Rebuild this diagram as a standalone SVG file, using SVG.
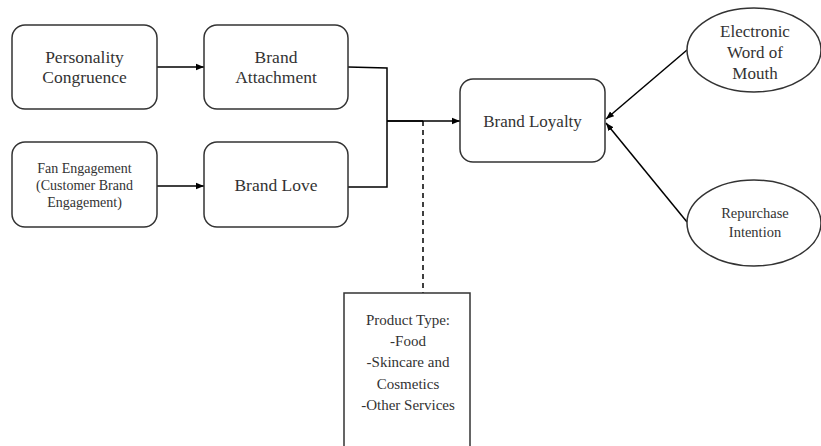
<svg xmlns="http://www.w3.org/2000/svg" width="821" height="446" viewBox="0 0 821 446">
<defs>
<style>
.box{fill:#fff;stroke:#333;stroke-width:1.5}
.t{font-family:"Liberation Serif","Times New Roman",serif;fill:#333;text-anchor:middle}
.c{fill:none;stroke:#000;stroke-width:1.5}
</style>
<marker id="ah" viewBox="0 0 10 10" refX="10" refY="5" markerWidth="8" markerHeight="8" markerUnits="userSpaceOnUse" orient="auto">
<path d="M0,1 L10,5 L0,9 Z" fill="#000"/>
</marker>
</defs>
<rect width="821" height="446" fill="#fff"/>
<g id="connectors">
<line class="c" x1="157" y1="67" x2="204" y2="67" marker-end="url(#ah)"/>
<line class="c" x1="157" y1="186" x2="204" y2="186" marker-end="url(#ah)"/>
<polyline class="c" points="348,67 387,68 387,187 348,187"/>
<line class="c" x1="387" y1="121" x2="460" y2="121" marker-end="url(#ah)"/>
<line class="c" x1="387" y1="121" x2="423" y2="121" stroke-width="2.5"/>
<line class="c" x1="423" y1="121" x2="423" y2="293" stroke-dasharray="5,4"/>
<line class="c" x1="687" y1="50" x2="606" y2="119" marker-end="url(#ah)"/>
<line class="c" x1="687" y1="222" x2="606" y2="123" marker-end="url(#ah)"/>
</g>
<g id="personality">
<rect class="box" x="12" y="25" width="145" height="84" rx="13"/>
<text class="t" font-size="17.5" x="84.5" y="63">Personality</text>
<text class="t" font-size="17.5" x="84.5" y="83">Congruence</text>
</g>
<g id="attachment">
<rect class="box" x="204" y="25" width="144" height="84" rx="13"/>
<text class="t" font-size="17.5" x="276" y="63">Brand</text>
<text class="t" font-size="17.5" x="276" y="83">Attachment</text>
</g>
<g id="fan">
<rect class="box" x="12" y="142" width="145" height="85" rx="13"/>
<text class="t" font-size="14" x="84.5" y="173">Fan Engagement</text>
<text class="t" font-size="14" x="84.5" y="190">(Customer Brand</text>
<text class="t" font-size="14" x="84.5" y="207">Engagement)</text>
</g>
<g id="love">
<rect class="box" x="204" y="142" width="144" height="85" rx="13"/>
<text class="t" font-size="17.5" x="276" y="191">Brand Love</text>
</g>
<g id="loyalty">
<rect class="box" x="460" y="79" width="145" height="83" rx="13"/>
<text class="t" font-size="17" x="532.5" y="127">Brand Loyalty</text>
</g>
<g id="ewom">
<ellipse class="box" cx="754" cy="50" rx="67" ry="42"/>
<text class="t" font-size="17" x="755" y="37">Electronic</text>
<text class="t" font-size="17" x="755" y="58">Word of</text>
<text class="t" font-size="17" x="755" y="79">Mouth</text>
</g>
<g id="repurchase">
<ellipse class="box" cx="754" cy="223" rx="67" ry="43"/>
<text class="t" font-size="14.5" x="755" y="218">Repurchase</text>
<text class="t" font-size="14.5" x="755" y="237">Intention</text>
</g>
<g id="product">
<rect class="box" x="344" y="293" width="126" height="170" stroke="#000"/>
<text class="t" font-size="15" x="408" y="325">Product Type:</text>
<text class="t" font-size="15" x="408" y="346">-Food</text>
<text class="t" font-size="15" x="408" y="367">-Skincare and</text>
<text class="t" font-size="15" x="408" y="389">Cosmetics</text>
<text class="t" font-size="15" x="408" y="410">-Other Services</text>
</g>
</svg>
